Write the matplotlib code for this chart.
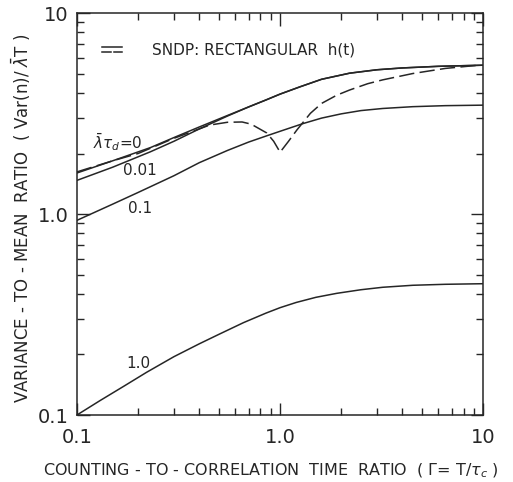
import numpy as np
import matplotlib
matplotlib.use("Agg")
from matplotlib import pyplot as plt
from matplotlib.ticker import LogLocator, FixedLocator, NullFormatter

# curves (x = T/tau_c, y = Var(n)/(lambda T))
x_0 = [0.1, 0.15, 0.23, 0.3, 0.4, 0.55, 0.7, 0.85, 1.0, 1.25, 1.6, 2.2, 3.0, 4.0, 6.0, 10.0]
y_0 = [1.6, 1.84, 2.14, 2.40, 2.71, 3.09, 3.41, 3.69, 3.95, 4.29, 4.68, 5.02, 5.22, 5.33, 5.43, 5.5]

x_001 = [0.1, 0.15, 0.23, 0.3, 0.4, 0.55, 0.7, 0.85, 1.0, 1.25, 1.6, 2.2, 3.0, 4.0, 6.0, 10.0]
y_001 = [1.47, 1.71, 2.04, 2.30, 2.65, 3.07, 3.41, 3.69, 3.95, 4.29, 4.68, 5.02, 5.22, 5.33, 5.43, 5.5]

x_01 = [0.1, 0.15, 0.2, 0.3, 0.4, 0.55, 0.7, 0.85, 1.0, 1.3, 1.6, 2.0, 2.5, 3.2, 4.5, 6.5, 10.0]
y_01 = [0.93, 1.12, 1.28, 1.55, 1.8, 2.07, 2.28, 2.44, 2.58, 2.82, 3.0, 3.15, 3.27, 3.35, 3.42, 3.46, 3.48]

x_1 = [0.1, 0.13, 0.17, 0.22, 0.3, 0.4, 0.5, 0.66, 0.85, 1.0, 1.2, 1.5, 1.9, 2.5, 3.2, 4.5, 6.5, 10.0]
y_1 = [0.1, 0.118, 0.139, 0.163, 0.195, 0.226, 0.252, 0.288, 0.321, 0.342, 0.363, 0.385, 0.403,
       0.42, 0.432, 0.442, 0.447, 0.45]

# SNDP, rectangular h(t)
x_sndp = [0.1, 0.15, 0.2, 0.3, 0.45, 0.55, 0.65, 0.72, 0.86, 0.93, 1.0, 1.1, 1.21, 1.41, 1.6,
          1.9, 2.2, 2.7, 3.2, 4.5, 6.5, 9.5]
y_sndp = [1.62, 1.84, 2.0, 2.38, 2.77, 2.86, 2.87, 2.80, 2.53, 2.3, 2.03, 2.3, 2.62, 3.17, 3.55,
          3.9, 4.14, 4.45, 4.65, 5.0, 5.3, 5.5]

curve_labels = [r'$\bar{\lambda}\tau_d$=0', '0.01', '0.1', '1.0']
label_pos = [(0.12, 2.28), (0.204, 1.64), (0.204, 1.06), (0.2, 0.18)]

ink = '#262626'
plt.rcParams['font.family'] = ['DejaVu Sans']
plt.rcParams['mathtext.fontset'] = 'dejavusans'

fig = plt.figure(figsize=(5.13, 4.82), dpi=100)
ax = fig.add_axes([0.150, 0.139, 0.792, 0.834])

for xs, ys in [(x_0, y_0), (x_001, y_001), (x_01, y_01), (x_1, y_1)]:
    ax.plot(xs, ys, color=ink, lw=1.1)
ax.plot(x_sndp, y_sndp, color=ink, lw=1.1, dashes=(10, 3.5))

for txt, (lx, ly) in zip(curve_labels, label_pos):
    ax.text(lx, ly, txt, fontsize=11, color=ink, ha='left' if txt.startswith('$') else 'center',
            va='center')

# legend entry
ax.plot([0.062, 0.111], [0.915, 0.915], color=ink, lw=1.1, transform=ax.transAxes)
ax.plot([0.062, 0.084], [0.902, 0.902], color=ink, lw=1.1, transform=ax.transAxes)
ax.plot([0.090, 0.111], [0.902, 0.902], color=ink, lw=1.1, transform=ax.transAxes)
ax.text(0.185, 0.908, 'SNDP: RECTANGULAR  h(t)', transform=ax.transAxes,
        fontsize=11, color=ink, va='center')

ax.set_xscale('log')
ax.set_yscale('log')
ax.set_xlim(0.1, 10)
ax.set_ylim(0.1, 10)

ticks = [0.1, 1.0, 10]
tick_text = ['0.1', '1.0', '10']
ax.xaxis.set_major_locator(FixedLocator(ticks))
ax.yaxis.set_major_locator(FixedLocator(ticks))
ax.set_xticklabels(tick_text)
ax.set_yticklabels(tick_text)
for a in (ax.xaxis, ax.yaxis):
    a.set_minor_locator(LogLocator(base=10, subs=np.arange(2, 10)))
    a.set_minor_formatter(NullFormatter())

ax.tick_params(which='both', direction='in', top=True, right=True, colors=ink,
               labelsize=14, width=1.0)
ax.tick_params(which='major', length=9)
ax.tick_params(axis='x', which='major', pad=9)
ax.tick_params(axis='y', which='major', pad=6)
ax.tick_params(which='minor', length=5)
for s in ax.spines.values():
    s.set_color(ink)
    s.set_linewidth(1.1)

ax.set_xlabel(r'COUNTING - TO - CORRELATION  TIME  RATIO  ( $\Gamma$= T/$\tau_c$ )',
              fontsize=11.5, color=ink)
ax.xaxis.set_label_coords(0.478, -0.115)
ax.set_ylabel(r'VARIANCE - TO - MEAN  RATIO  ( Var(n)/ $\bar{\lambda}$T )',
              fontsize=12, color=ink)
ax.yaxis.set_label_coords(-0.108, 0.49)

fig.savefig('out.png', dpi=100)
